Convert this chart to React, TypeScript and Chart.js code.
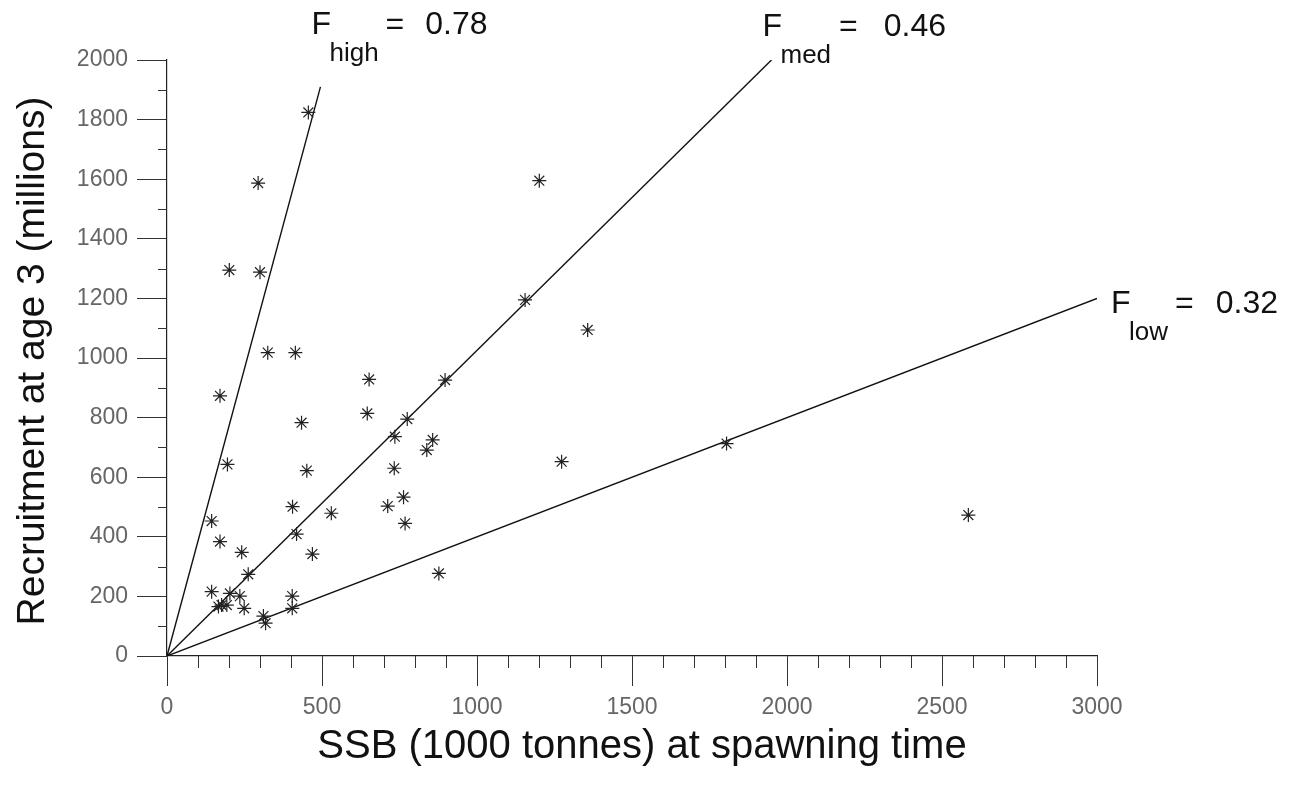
import React, { useEffect, useRef } from "react";
import { Chart, registerables } from "chart.js";

Chart.register(...registerables);

const ssb: number[] = [
  456, 294, 201, 300, 325, 414, 652, 897, 171, 434, 646, 775, 735, 857, 838, 195,
  451, 733, 763, 712, 405, 530, 768, 144, 418, 171, 241, 469, 262, 877, 144, 203,
  235, 404, 166, 176, 193, 249, 404, 311, 318, 1201, 1155, 1357, 1273, 1805, 2585,
];
const recruitment: number[] = [
  1824, 1587, 1295, 1288, 1018, 1018, 928, 926, 873, 783, 814, 795, 736, 725, 691, 643,
  622, 630, 533, 503, 501, 479, 445, 453, 409, 384, 348, 342, 274, 277, 216, 210,
  201, 201, 166, 171, 171, 160, 160, 134, 110, 1595, 1195, 1094, 652, 713, 473,
];

const lineNames = ["high", "med", "low"];
const lineValues = ["0.78", "0.46", "0.32"];
const lineEndX = [495, 1950, 3000];
const lineEndY = [1910, 2000, 1200];

const xTickStep = 500;
const yTickStep = 200;
const xMinorStep = 100;
const yMinorStep = 100;

const FONT = "'Liberation Sans', Arial, Helvetica, sans-serif";

export default function App() {
  const ref = useRef<HTMLCanvasElement | null>(null);

  useEffect(() => {
    if (!ref.current) return;
    const points = ssb.map((x, i) => ({ x, y: recruitment[i] }));
    const lineSets = lineNames.map((n, i) => ({
      label: "F" + n,
      data: [
        { x: 0, y: 0 },
        { x: lineEndX[i], y: lineEndY[i] },
      ],
      showLine: true,
      pointRadius: 0,
      borderColor: "#111",
      borderWidth: 1.4,
      fill: false,
    }));

    // offsets of label from line end, and gaps
    const labelOffsets = [
      { dx: -9, dy: -53, eqGap: 7, numGap: 21 },
      { dx: -9, dy: -24, eqGap: 8, numGap: 26 },
      { dx: 14, dy: 15, eqGap: 7, numGap: 22 },
    ];

    const overlay = {
      id: "overlay",
      afterDraw(chart: any) {
        const ctx = chart.ctx;
        const xs = chart.scales.x;
        const ys = chart.scales.y;
        const x0 = xs.getPixelForValue(0);
        const y0 = ys.getPixelForValue(0);
        ctx.save();
        // minor ticks
        ctx.strokeStyle = "#333";
        ctx.lineWidth = 1;
        ctx.beginPath();
        for (let v = xMinorStep; v < 3000; v += xMinorStep) {
          if (v % xTickStep === 0) continue;
          const px = Math.round(xs.getPixelForValue(v)) + 0.5;
          ctx.moveTo(px, y0);
          ctx.lineTo(px, y0 + 12);
        }
        for (let v = yMinorStep; v < 2000; v += yMinorStep) {
          if (v % yTickStep === 0) continue;
          const py = Math.round(ys.getPixelForValue(v)) + 0.5;
          ctx.moveTo(x0 - 9, py);
          ctx.lineTo(x0, py);
        }
        ctx.stroke();

        // axis titles
        ctx.fillStyle = "#111";
        ctx.textAlign = "center";
        ctx.textBaseline = "alphabetic";
        ctx.font = `40px ${FONT}`;
        ctx.fillText("SSB (1000 tonnes) at spawning time", 642, 758);
        ctx.save();
        ctx.font = `39px ${FONT}`;
        ctx.translate(44, 361);
        ctx.rotate(-Math.PI / 2);
        ctx.fillText("Recruitment at age 3 (millions)", 0, 0);
        ctx.restore();

        // F labels
        ctx.textAlign = "left";
        lineNames.forEach((n, i) => {
          const o = labelOffsets[i];
          const px = xs.getPixelForValue(lineEndX[i]) + o.dx;
          const py = ys.getPixelForValue(lineEndY[i]) + o.dy;
          ctx.font = `32px ${FONT}`;
          ctx.fillText("F", px, py);
          ctx.font = `26px ${FONT}`;
          const sx = px + 18;
          ctx.fillText(n, sx, py + 27);
          const sw = ctx.measureText(n).width;
          ctx.font = `32px ${FONT}`;
          const ex = sx + sw + o.eqGap;
          ctx.fillText("=", ex, py);
          const ew = ctx.measureText("=").width;
          ctx.fillText(lineValues[i], ex + ew + o.numGap, py);
        });
        ctx.restore();
      },
    };

    const chart = new Chart(ref.current, {
      type: "scatter",
      data: {
        datasets: [
          {
            label: "points",
            data: points,
            pointStyle: "star",
            pointRadius: 7,
            borderColor: "#222",
            backgroundColor: "#222",
            borderWidth: 1.2,
            showLine: false,
          },
          ...lineSets,
        ] as any,
      },
      options: {
        responsive: false,
        animation: false,
        layout: { padding: { top: 60, right: 205, left: 0, bottom: 0 } },
        plugins: { legend: { display: false }, tooltip: { enabled: false }, title: { display: false } },
        scales: {
          x: {
            type: "linear",
            min: 0,
            max: 3000,
            afterFit(s: any) {
              s.height = 131;
            },
            ticks: {
              stepSize: xTickStep,
              color: "#666",
              font: { size: 23, family: FONT },
              padding: 8,
              maxRotation: 0,
              callback: (v: any) => String(v),
            },
            grid: { drawOnChartArea: false, tickLength: 30, color: "#333", lineWidth: 1 },
            border: { color: "#222", width: 1.2 },
          },
          y: {
            type: "linear",
            min: 0,
            max: 2000,
            afterFit(s: any) {
              s.width = 167;
            },
            ticks: {
              stepSize: yTickStep,
              color: "#666",
              font: { size: 23, family: FONT },
              padding: 9,
              callback: (v: any) => String(v),
            },
            grid: { drawOnChartArea: false, tickLength: 30, color: "#333", lineWidth: 1 },
            border: { color: "#222", width: 1.2 },
          },
        },
      },
      plugins: [overlay],
    });
    return () => chart.destroy();
  }, []);

  return (
    <canvas
      ref={ref}
      width={1302}
      height={787}
      style={{ position: "absolute", left: 0, top: 0, background: "#fff" }}
    />
  );
}
